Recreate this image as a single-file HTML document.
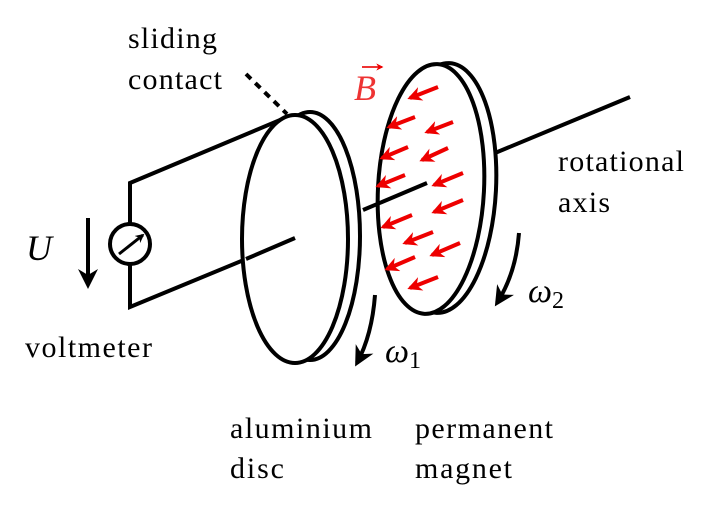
<!DOCTYPE html>
<html><head><style>html,body{margin:0;padding:0;background:#fff}svg{display:block}</style></head>
<body>
<svg width="722" height="512" viewBox="0 0 722 512" xmlns="http://www.w3.org/2000/svg">
<defs>
<marker id="ah" viewBox="0 0 10 10" refX="8" refY="5" markerWidth="5" markerHeight="5" orient="auto"><path d="M0,0 L10,5 L0,10 L3,5z" fill="#000"/></marker>
<marker id="sh" viewBox="0 0 10 10" refX="8" refY="5" markerWidth="3" markerHeight="3" orient="auto"><path d="M0,0 L10,5 L0,10 L3,5z" fill="#000"/></marker>
<marker id="rh" viewBox="0 0 10 10" refX="8" refY="5" markerWidth="3.6" markerHeight="3.6" orient="auto"><path d="M0,0 L10,5 L0,10 L3,5z" fill="#e00"/></marker>
</defs>
<g fill="none" stroke="#000" stroke-width="4">
<polyline points="292,115 130,183 130,224"/>
<polyline points="130,264 130,307 297,238"/>
<circle cx="130" cy="244" r="20" fill="#fff"/>
<line x1="119" y1="254" x2="143" y2="235" stroke-width="3" marker-end="url(#sh)"/>
<line x1="88" y1="218" x2="88" y2="285" marker-end="url(#ah)"/>
<line x1="246" y1="74" x2="287" y2="114" stroke-dasharray="7,6"/>
<ellipse cx="310" cy="236" rx="50" ry="124"/>
<ellipse cx="295" cy="239" rx="53" ry="124" fill="#fff"/>
<ellipse cx="443" cy="188" rx="53" ry="125" transform="rotate(3 443 188)"/>
<ellipse cx="431" cy="189" rx="53" ry="125" fill="#fff" transform="rotate(3 431 189)"/>
<line x1="363" y1="210" x2="427" y2="183"/>
<line x1="295" y1="238" x2="246" y2="259"/>
<line x1="495" y1="153" x2="630" y2="97"/>
<path d="M375,295 Q372,335 357,363" marker-end="url(#ah)"/>
<path d="M519,233 Q516,273 497,303" marker-end="url(#ah)"/>
</g>
<g stroke="#e00" stroke-width="4" marker-end="url(#rh)">
<line x1="438" y1="87" x2="410" y2="98"/>
<line x1="415" y1="117" x2="389" y2="127"/>
<line x1="453" y1="122" x2="427" y2="132"/>
<line x1="408" y1="147" x2="382" y2="158"/>
<line x1="448" y1="148" x2="422" y2="160"/>
<line x1="405" y1="175" x2="378" y2="186"/>
<line x1="463" y1="173" x2="434" y2="185"/>
<line x1="412" y1="215" x2="383" y2="227"/>
<line x1="463" y1="200" x2="434" y2="212"/>
<line x1="433" y1="232" x2="405" y2="243"/>
<line x1="460" y1="243" x2="432" y2="255"/>
<line x1="415" y1="257" x2="387" y2="269"/>
<line x1="438" y1="277" x2="410" y2="288"/>
</g>
<g font-family="'Liberation Serif', serif" font-size="30" fill="#000">
<text x="128" y="48" textLength="89">sliding</text>
<text x="128" y="89" textLength="94">contact</text>
<text x="558" y="171" textLength="126">rotational</text>
<text x="558" y="212" textLength="52">axis</text>
<text x="25" y="357" textLength="127">voltmeter</text>
<text x="230" y="438" textLength="142">aluminium</text>
<text x="230" y="478" textLength="54">disc</text>
<text x="415" y="438" textLength="138">permanent</text>
<text x="415" y="478" textLength="97">magnet</text>
<text x="26" y="260" font-style="italic" font-size="36">U</text>
<text x="385" y="362" font-style="italic" font-size="34">ω<tspan font-style="normal" font-size="24" dy="6">1</tspan></text>
<text x="528" y="302" font-style="italic" font-size="34">ω<tspan font-style="normal" font-size="24" dy="6">2</tspan></text>
<text x="354" y="100" font-style="italic" font-size="36" fill="#e33">B</text>
</g>
<line x1="362" y1="67" x2="382" y2="67" stroke="#e33" stroke-width="2" marker-end="url(#rh)"/>
</svg>
</body></html>
